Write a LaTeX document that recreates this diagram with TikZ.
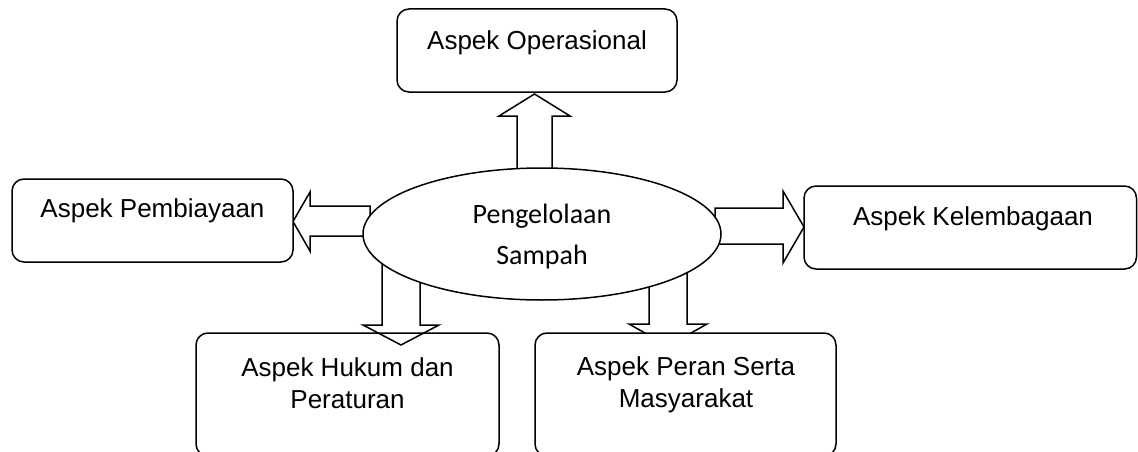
\documentclass[tikz,border=0pt]{standalone}
\usepackage{fontspec}
\newfontfamily\arialfont{Liberation Sans}
\newfontfamily\calibrifont{Carlito}
\usetikzlibrary{positioning, shapes.geometric}

\begin{document}
\begin{tikzpicture}[
    x=1pt, y=-1pt,
    aspek/.style={draw, rounded corners=12pt, fill=white, line width=1.5pt, inner sep=0pt},
    teks/.style={anchor=base, align=center, inner sep=0pt, font=\arialfont\fontsize{26}{32}\selectfont},
    panah/.style={draw, line width=1.5pt, line join=miter}
]
    \useasboundingbox (0,0) rectangle (1138,452);

    % Kotak bawah kiri (panah menimpanya)
    \node[aspek, minimum width=303pt, minimum height=123pt] (hukum) at (347.5,394.5) {};

    % Ujung panah
    \coordinate (opTip) at (534.5,94);
    \coordinate (pembTip) at (293,221.5);
    \coordinate (kelTip) at (804,227);
    \coordinate (hukumTip) at (401,345);
    \coordinate (peranTip) at (668,346);

    % Panah blok
    \draw[panah] (opTip) -- ++(35.5,22) -- ++(-18,0) -- ++(0,59) -- ++(-35,0) -- ++(0,-59) -- ++(-18,0) -- cycle;
    \draw[panah] (pembTip) -- ++(17,-29.5) -- ++(0,14) -- ++(60,0) -- ++(0,30) -- ++(-60,0) -- ++(0,15) -- cycle;
    \draw[panah] (kelTip) -- ++(-21,-36) -- ++(0,17) -- ++(-68,0) -- ++(0,36) -- ++(68,0) -- ++(0,19) -- cycle;
    \draw[panah] (hukumTip) -- ++(38,-20) -- ++(-19,0) -- ++(0,-75) -- ++(-38,0) -- ++(0,75) -- ++(-19,0) -- cycle;
    \draw[panah] (peranTip) -- ++(39,-22) -- ++(-20,0) -- ++(0,-74) -- ++(-38,0) -- ++(0,74) -- ++(-20,0) -- cycle;

    % Elips tengah
    \node[ellipse, draw, fill=white, line width=1.5pt, minimum width=358pt, minimum height=132pt, inner sep=0pt] (sampah) at (542,234) {};
    \node[anchor=base, align=center, inner sep=0pt, font=\calibrifont\fontsize{28}{41}\selectfont] (sampahT) at (542,264) {Pengelolaan\\Sampah};

    % Kotak aspek
    \node[aspek, minimum width=280pt, minimum height=83pt] (op) at (537,50.5) {};
    \node[aspek, minimum width=281pt, minimum height=83pt] (pemb) at (152.5,220.5) {};
    \node[aspek, minimum width=332.5pt, minimum height=83pt] (kel) at (970.25,227.5) {};
    \node[aspek, minimum width=301pt, minimum height=123pt] (peran) at (685.5,394.5) {};

    % Teks kotak
    \node[teks] (opT) at (537,50) {Aspek Operasional};
    \node[teks] (pembT) at (152.5,217) {Aspek Pembiayaan};
    \node[teks] (kelT) at (973,225) {Aspek Kelembagaan};
    \node[teks] (hukumT) at (347.5,408) {Aspek Hukum dan\\Peraturan};
    \node[teks] (peranT) at (686,407) {Aspek Peran Serta\\Masyarakat};
\end{tikzpicture}
\end{document}
